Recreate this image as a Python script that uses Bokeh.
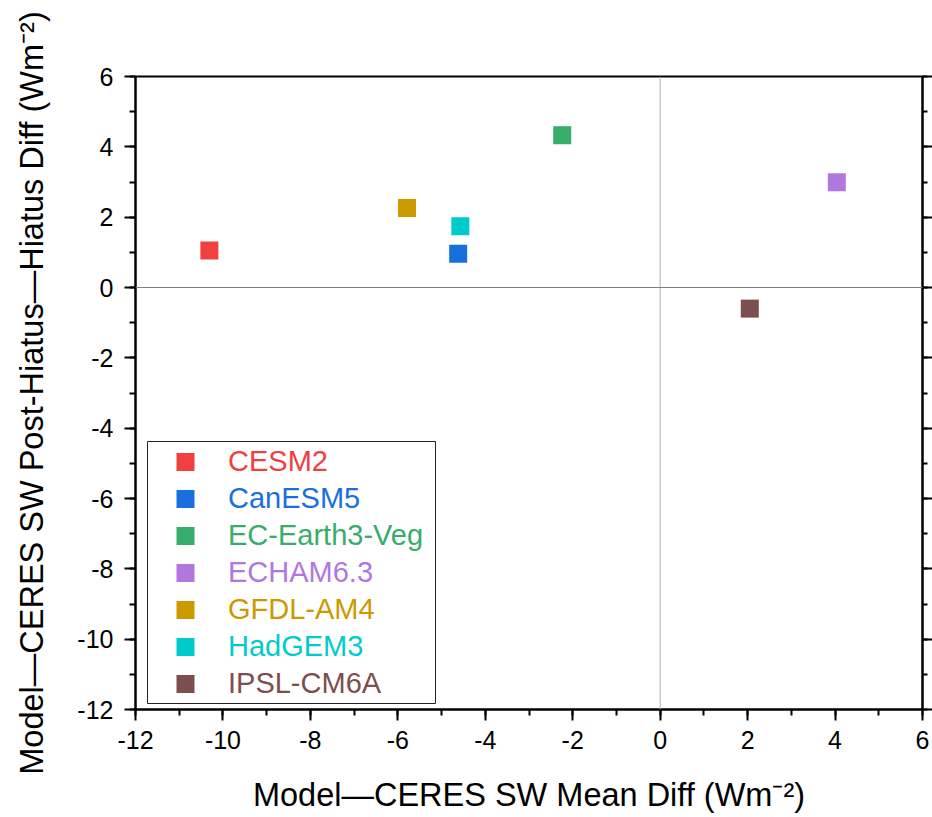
from bokeh.plotting import figure
from bokeh.models import (Range1d, LinearAxis, SingleIntervalTicker, Span, Legend,
                          LegendItem, BoxAnnotation, CustomJSTickFormatter)
from bokeh.embed import file_html
from bokeh.resources import INLINE

# ---- data ----
models = ["CESM2", "CanESM5", "EC-Earth3-Veg", "ECHAM6.3", "GFDL-AM4", "HadGEM3", "IPSL-CM6A"]
mean_diff = [-10.31, -4.62, -2.24, 4.04, -5.79, -4.57, 2.05]
hiatus_diff = [1.05, 0.96, 4.33, 2.99, 2.26, 1.74, -0.60]
colors = ["#F14040", "#1A6FDF", "#37AD6B", "#B177DE", "#CC9900", "#00CBCC", "#7D4E4E"]

x_label = "Model\u2014CERES SW Mean Diff (Wm\u207b\u00b2)"
y_label = "Model\u2014CERES SW Post-Hiatus\u2014Hiatus Diff (Wm\u207b\u00b2)"

FONT = "Liberation Sans"

p = figure(width=932, height=817,
           x_range=Range1d(-12, 6), y_range=Range1d(-12, 6),
           output_backend="svg", toolbar_location=None,
           min_border_left=135, min_border_top=76,
           min_border_right=0, min_border_bottom=108)
p.grid.visible = False
p.outline_line_color = "black"
p.outline_line_width = 2
p.background_fill_color = "white"
p.border_fill_color = "white"

p.xaxis.axis_label = x_label
p.yaxis.axis_label = y_label

hyphen_fmt = "return tick.toFixed(0)"

for ax in [p.xaxis[0], p.yaxis[0]]:
    ax.ticker = SingleIntervalTicker(interval=2, num_minor_ticks=2)
    ax.formatter = CustomJSTickFormatter(code=hyphen_fmt)
    ax.axis_line_width = 2
    ax.axis_line_color = "black"
    ax.major_tick_line_width = 2
    ax.major_tick_out = 11
    ax.major_tick_in = 0
    ax.minor_tick_line_width = 2
    ax.minor_tick_out = 6
    ax.minor_tick_in = 0
    ax.major_label_text_font = FONT
    ax.major_label_text_font_size = "25px"
    ax.major_label_text_color = "black"
    ax.axis_label_text_font = FONT
    ax.axis_label_text_font_size = "32.5px"
    ax.axis_label_text_font_style = "normal"
    ax.axis_label_text_color = "black"

p.xaxis[0].major_label_standoff = 10
p.xaxis[0].axis_label_standoff = 25
p.yaxis[0].major_label_standoff = 11
p.yaxis[0].axis_label_standoff = 24

ra = LinearAxis(ticker=SingleIntervalTicker(interval=2, num_minor_ticks=2),
                formatter=CustomJSTickFormatter(code="return ''"))
ra.axis_line_width = 2
ra.major_tick_line_width = 2
ra.major_tick_out = 10
ra.major_tick_in = 0
ra.minor_tick_line_width = 2
ra.minor_tick_out = 5
ra.minor_tick_in = 0
ra.major_label_standoff = 0
p.add_layout(ra, "right")

# zero lines
p.add_layout(Span(location=0, dimension="height", line_color="#b0b0b0", line_width=1))
p.add_layout(Span(location=0, dimension="width", line_color="#808080", line_width=1))

# legend frame
box = BoxAnnotation(left=12, right=300, bottom=6, top=268,
                    left_units="screen", right_units="screen",
                    bottom_units="screen", top_units="screen",
                    fill_color="white", fill_alpha=1.0,
                    line_color="#222222", line_width=1, line_alpha=1.0)
p.add_layout(box)

for i, (name, xv, yv, c) in enumerate(zip(models, mean_diff, hiatus_diff, colors)):
    r = p.scatter(x=[xv], y=[yv], marker="square", size=18,
                  fill_color=c, line_color=c, line_width=0)
    leg = Legend(items=[LegendItem(label=name, renderers=[r])],
                 location=(10, 225 - 37 * i),
                 glyph_width=80, glyph_height=45, label_standoff=3,
                 padding=0, margin=0, spacing=0,
                 border_line_color=None, background_fill_alpha=0,
                 label_text_font=FONT, label_text_font_size="29px",
                 label_text_color=c)
    p.add_layout(leg, "center")

open("out.html", "w").write(file_html(p, INLINE))
